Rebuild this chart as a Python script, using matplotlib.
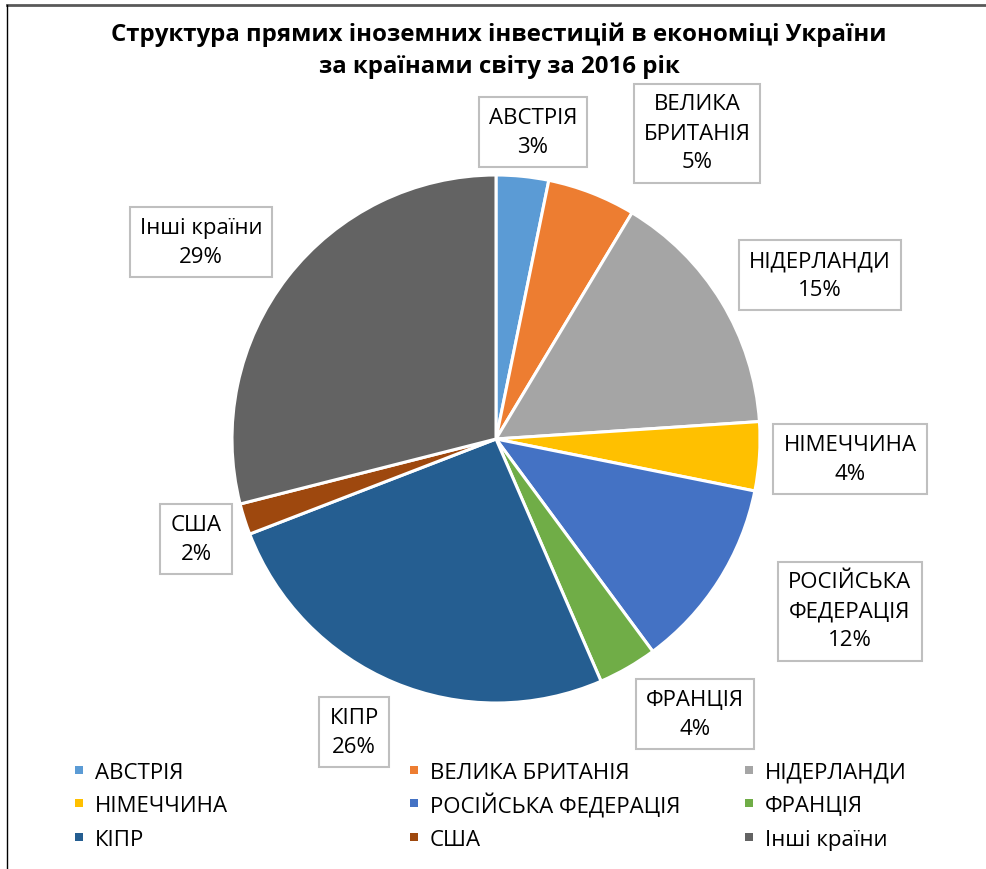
import matplotlib
matplotlib.use("Agg")
import matplotlib.pyplot as plt
from matplotlib.patches import Rectangle
from matplotlib.lines import Line2D

plt.rcParams['font.family'] = ['Open Sans', 'DejaVu Sans']

title = "Структура прямих іноземних інвестицій в економіці України\nза країнами світу за 2016 рік"
countries = ["АВСТРІЯ", "ВЕЛИКА БРИТАНІЯ", "НІДЕРЛАНДИ", "НІМЕЧЧИНА",
             "РОСІЙСЬКА ФЕДЕРАЦІЯ", "ФРАНЦІЯ", "КІПР", "США", "Інші країни"]
label_names = ["АВСТРІЯ", "ВЕЛИКА\nБРИТАНІЯ", "НІДЕРЛАНДИ", "НІМЕЧЧИНА",
               "РОСІЙСЬКА\nФЕДЕРАЦІЯ", "ФРАНЦІЯ", "КІПР", "США", "Інші країни"]
shares = [3.2, 5.4, 15.3, 4.2, 11.7, 3.6, 25.6, 1.9, 28.9]
colors = ["#5B9BD5", "#ED7D31", "#A5A5A5", "#FFC000", "#4472C4",
          "#70AD47", "#255E91", "#9E480E", "#636363"]

W, H = 987, 870
fig = plt.figure(figsize=(W / 100, H / 100), dpi=100)
ax = fig.add_axes([0, 0, 1, 1])

cx, cy, r = 496, H - 440, 264
wedges, _ = ax.pie(shares, colors=colors, startangle=90, counterclock=False,
                   center=(cx, cy), radius=r, frame=True,
                   wedgeprops=dict(edgecolor='white', linewidth=2.2))
ax.set_xlim(0, W)
ax.set_ylim(0, H)
ax.set_aspect('equal')
ax.axis('off')

# chart border (top and left visible)
ax.add_line(Line2D([7, W], [H - 6, H - 6], color='#595959', lw=2))
ax.add_line(Line2D([7, 7], [0, H - 6], color='black', lw=1))

total = sum(shares)
label_pos = [(533, 133), (697, 134), (820, 276), (850, 460), (850, 612),
             (695, 715), (354, 733), (196, 540), (201, 243)]
for name, v, (px, py) in zip(label_names, shares, label_pos):
    ax.text(px, H - py, f"{name}\n{round(v / total * 100):.0f}%", ha='center', va='center',
            fontsize=16, linespacing=1.5, color='black',
            bbox=dict(boxstyle='square,pad=0.45', facecolor='white',
                      edgecolor='#BFBFBF', linewidth=1.5))

fig.text(499 / W, 1 - 51 / H, title, ha='center', va='center', fontsize=17.3,
         fontweight='bold', linespacing=1.45)

# legend: three columns, row-major order
col_x = [75, 410, 745]
row_y = [771, 804, 838]
sq = 8
for i, (name, col) in enumerate(zip(countries, colors)):
    x = col_x[i % 3]
    y = H - row_y[i // 3]
    ax.add_patch(Rectangle((x, y - sq / 2), sq, sq, facecolor=col, edgecolor='none'))
    ax.text(x + 20, y, name, ha='left', va='center_baseline', fontsize=16, color='black')

fig.savefig("out.png", dpi=100)
